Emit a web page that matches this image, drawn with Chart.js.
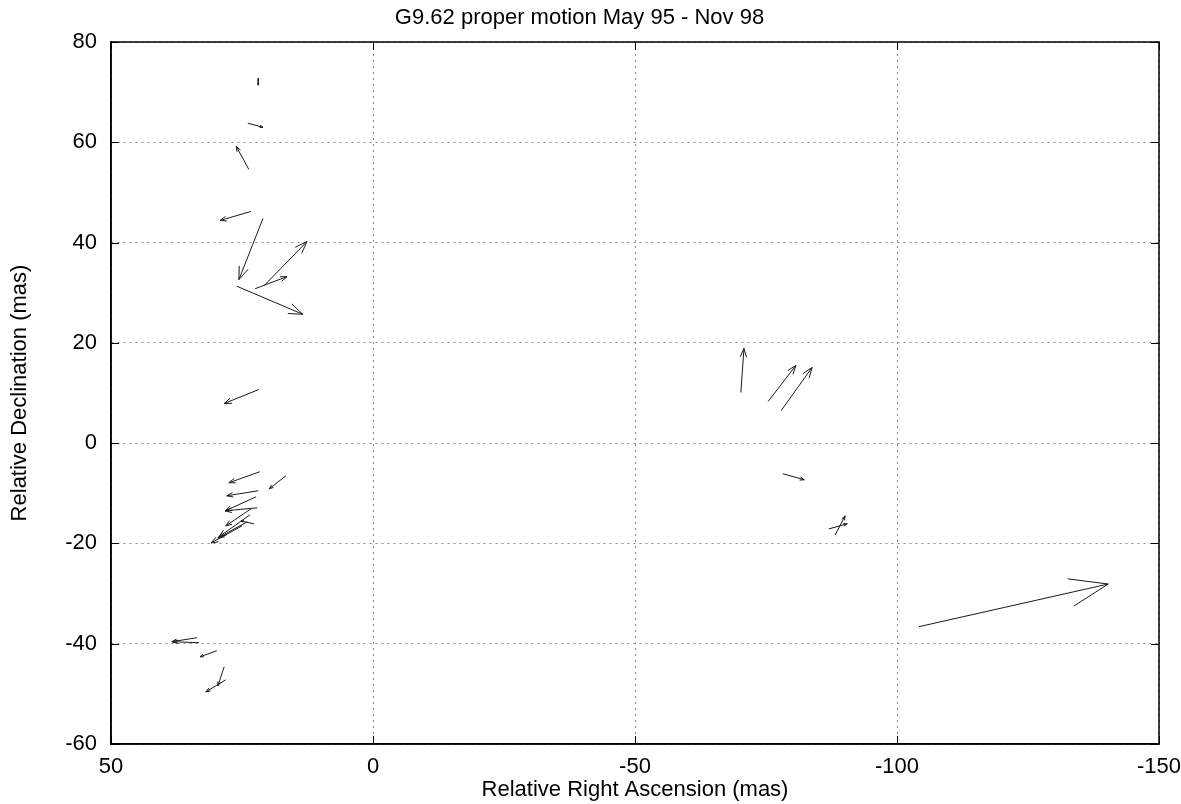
<!DOCTYPE html>
<html>
<head>
    <title>G9.62 proper motion</title>
    <script src="https://cdn.jsdelivr.net/npm/chart.js"></script>
    <style>
        body { margin: 0; background: #fff; }
        #wrap { width: 1181px; height: 804px; }
    </style>
</head>
<body>
    <div id="wrap"><canvas id="motionChart"></canvas></div>

    <script>
        // arrow start (tail) and end (head), relative RA / Dec in mas
        var tailRA  = [21.9, 23.9, 23.7, 23.3, 21.0, 20.8, 22.5, 26.0, 21.8, 21.6, 16.6, 21.9, 22.3, 22.1, 23.3, 22.7,
                       23.5, 25.0, 24.0, 33.6, 33.2, 29.8, 28.4, 28.1, -70.2, -75.4, -77.9, -78.2, -87.0, -88.2, -104.2];
        var tailDec = [72.8, 63.8, 54.6, 46.2, 44.8, 31.4, 30.8, 31.3, 10.7, -5.7, -6.5, -9.5, -10.7, -12.9, -13.1, -16.1,
                       -14.3, -16.5, -15.7, -38.8, -39.8, -41.4, -44.6, -47.2, 10.1, 8.3, 6.5, -6.1, -17.1, -18.3, -36.6];
        var headRA  = [21.9, 21.0, 26.1, 29.2, 25.6, 12.6, 16.4, 13.4, 28.4, 27.5, 19.8, 27.9, 28.2, 28.2, 28.1, 25.2,
                       29.4, 30.9, 29.6, 38.4, 38.2, 33.0, 29.6, 31.9, -70.8, -80.7, -83.8, -82.3, -90.5, -90.1, -140.3];
        var headDec = [71.4, 63.0, 59.2, 44.4, 32.6, 40.2, 33.2, 25.7, 7.9, -7.9, -9.1, -10.5, -13.5, -13.5, -16.5, -15.5,
                       -18.7, -19.9, -18.9, -39.6, -39.6, -42.6, -48.4, -49.6, 18.9, 15.5, 15.1, -7.3, -16.1, -14.5, -28.1];

        var xTicks = [50, 0, -50, -100, -150];
        var yTicks = [80, 60, 40, 20, 0, -20, -40, -60];

        var fontFamily = '"Liberation Sans", Arial, Helvetica, sans-serif';

        // shafts: tail -> head, separated by gaps
        var shaftPoints = [];
        for (var i = 0; i < tailRA.length; i++) {
            shaftPoints.push({x: tailRA[i], y: tailDec[i]});
            shaftPoints.push({x: headRA[i], y: headDec[i]});
            shaftPoints.push({x: null, y: null});
        }

        // arrow heads, full frame and inward tick marks (gnuplot style)
        var arrowPlugin = {
            id: 'arrows',
            afterDatasetsDraw: function(chart) {
                var ctx = chart.ctx, xs = chart.scales.x, ys = chart.scales.y;
                ctx.save();
                ctx.strokeStyle = '#1a1a1a';
                ctx.lineWidth = 1;
                for (var i = 0; i < tailRA.length; i++) {
                    var x0 = xs.getPixelForValue(tailRA[i]), y0 = ys.getPixelForValue(tailDec[i]);
                    var x1 = xs.getPixelForValue(headRA[i]), y1 = ys.getPixelForValue(headDec[i]);
                    var len = Math.hypot(x1 - x0, y1 - y0);
                    var ang = Math.atan2(y1 - y0, x1 - x0);
                    var h = 0.21 * len, w = 20 * Math.PI / 180;
                    ctx.beginPath();
                    ctx.moveTo(x1 - h * Math.cos(ang - w), y1 - h * Math.sin(ang - w));
                    ctx.lineTo(x1, y1);
                    ctx.lineTo(x1 - h * Math.cos(ang + w), y1 - h * Math.sin(ang + w));
                    ctx.stroke();
                }
                ctx.restore();
            },
            afterDraw: function(chart) {
                var ctx = chart.ctx, a = chart.chartArea, xs = chart.scales.x, ys = chart.scales.y;
                ctx.save();
                ctx.strokeStyle = '#000';
                ctx.lineWidth = 1;
                ctx.beginPath();
                xs.ticks.forEach(function(t) {
                    var px = Math.round(xs.getPixelForValue(t.value)) + 0.5;
                    ctx.moveTo(px, a.bottom); ctx.lineTo(px, a.bottom - 8);
                    ctx.moveTo(px, a.top); ctx.lineTo(px, a.top + 8);
                });
                ys.ticks.forEach(function(t) {
                    var py = Math.round(ys.getPixelForValue(t.value)) + 0.5;
                    ctx.moveTo(a.left, py); ctx.lineTo(a.left + 8, py);
                    ctx.moveTo(a.right, py); ctx.lineTo(a.right - 8, py);
                });
                ctx.stroke();
                ctx.lineWidth = 1.5;
                ctx.strokeRect(a.left, a.top, a.right - a.left, a.bottom - a.top);
                ctx.restore();
            }
        };

        var motionChart = new Chart(document.getElementById('motionChart'), {
            type: 'scatter',
            data: {
                datasets: [{
                    data: shaftPoints,
                    showLine: true,
                    spanGaps: false,
                    borderColor: '#1a1a1a',
                    borderWidth: 1,
                    pointRadius: 0,
                    pointHoverRadius: 0
                }]
            },
            plugins: [arrowPlugin],
            options: {
                responsive: true,
                maintainAspectRatio: false,
                animation: false,
                layout: { padding: { right: 22, top: 0, bottom: 0, left: 0 } },
                plugins: {
                    legend: { display: false },
                    tooltip: { enabled: false },
                    title: {
                        display: true,
                        text: 'G9.62 proper motion May 95 - Nov 98',
                        color: '#000',
                        font: { family: fontFamily, size: 22, weight: 'normal' },
                        padding: { top: 5, bottom: 10.6 }
                    }
                },
                scales: {
                    x: {
                        type: 'linear',
                        min: -150,
                        max: 50,
                        reverse: true,
                        afterBuildTicks: function(scale) {
                            scale.ticks = xTicks.map(function(v) { return {value: v}; });
                        },
                        afterFit: function(scale) {
                            scale.height = 60;
                            scale.paddingLeft = 0;
                            scale.paddingRight = 0;
                        },
                        ticks: {
                            color: '#000',
                            padding: 10,
                            maxRotation: 0,
                            font: { family: fontFamily, size: 22 }
                        },
                        grid: { color: '#8a8a8a', lineWidth: 1, drawTicks: false },
                        border: { display: true, color: '#000', width: 1.5, dash: [2, 4] },
                        title: {
                            display: true,
                            text: 'Relative Right Ascension (mas)',
                            color: '#000',
                            font: { family: fontFamily, size: 22 },
                            padding: { top: 0, bottom: 1 }
                        }
                    },
                    y: {
                        type: 'linear',
                        min: -60,
                        max: 80,
                        afterBuildTicks: function(scale) {
                            scale.ticks = yTicks.map(function(v) { return {value: v}; });
                        },
                        afterFit: function(scale) {
                            scale.width = 111;
                            scale.paddingTop = 0;
                            scale.paddingBottom = 0;
                        },
                        ticks: {
                            color: '#000',
                            padding: 14,
                            font: { family: fontFamily, size: 22 }
                        },
                        grid: { color: '#8a8a8a', lineWidth: 1, drawTicks: false },
                        border: { display: true, color: '#000', width: 1.5, dash: [2, 4] },
                        title: {
                            display: true,
                            text: 'Relative Declination (mas)',
                            color: '#000',
                            font: { family: fontFamily, size: 22 },
                            padding: { top: 7, bottom: 0 }
                        }
                    }
                }
            }
        });
    </script>
</body>
</html>
